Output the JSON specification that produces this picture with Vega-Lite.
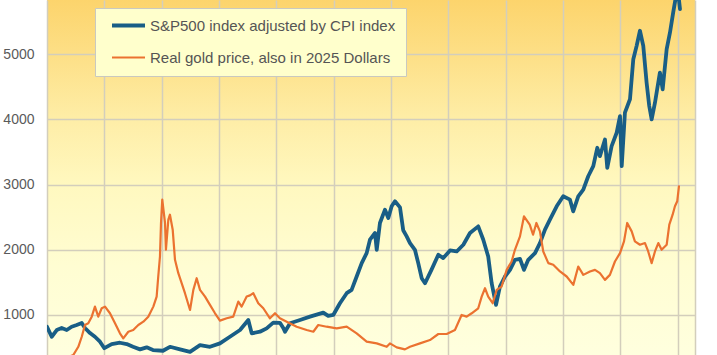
{
"$schema":"https://vega.github.io/schema/vega-lite/v6.json",
"width":648,"height":355,
"autosize":{"type":"none"},
"padding":{"left":47,"top":0,"right":22,"bottom":0},
"background":"white",
"config":{"font":"Liberation Sans","view":{"stroke":null,"fill":{"gradient":"linear","x1":0,"y1":0,"x2":0,"y2":1,"stops":[{"offset":0,"color":"#FCD46C"},{"offset":0.15,"color":"#FDDF86"},{"offset":0.33,"color":"#FEEDA6"},{"offset":0.52,"color":"#FFF8BF"},{"offset":0.75,"color":"#FFFDD2"},{"offset":1,"color":"#FFFFDE"}]}},
"legend":{"orient":"none","legendX":48,"legendY":8,"direction":"vertical","title":null,"fillColor":"#FFFFCC","strokeColor":"#C9C9C0","padding":10,"symbolType":"M-3.3,0L3.3,0","symbolSize":100,"symbolOffset":16,"symbolFillColor":"transparent","labelFontSize":15,"labelColor":"#555555","labelFont":"Liberation Sans","labelOffset":14,"rowPadding":16,"labelLimit":400,"cornerRadius":0}},
"data":{"values":[
{"s":"S&P500 index adjusted by CPI index","t":1970.00,"v":820},
{"s":"S&P500 index adjusted by CPI index","t":1970.41,"v":666},
{"s":"S&P500 index adjusted by CPI index","t":1970.85,"v":769},
{"s":"S&P500 index adjusted by CPI index","t":1971.28,"v":800},
{"s":"S&P500 index adjusted by CPI index","t":1971.72,"v":769},
{"s":"S&P500 index adjusted by CPI index","t":1972.15,"v":820},
{"s":"S&P500 index adjusted by CPI index","t":1972.59,"v":846},
{"s":"S&P500 index adjusted by CPI index","t":1973.03,"v":877},
{"s":"S&P500 index adjusted by CPI index","t":1973.31,"v":800},
{"s":"S&P500 index adjusted by CPI index","t":1973.75,"v":723},
{"s":"S&P500 index adjusted by CPI index","t":1974.18,"v":666},
{"s":"S&P500 index adjusted by CPI index","t":1974.62,"v":590},
{"s":"S&P500 index adjusted by CPI index","t":1975.00,"v":490},
{"s":"S&P500 index adjusted by CPI index","t":1975.64,"v":554},
{"s":"S&P500 index adjusted by CPI index","t":1976.36,"v":574},
{"s":"S&P500 index adjusted by CPI index","t":1976.95,"v":554},
{"s":"S&P500 index adjusted by CPI index","t":1977.50,"v":512},
{"s":"S&P500 index adjusted by CPI index","t":1978.11,"v":472},
{"s":"S&P500 index adjusted by CPI index","t":1978.69,"v":503},
{"s":"S&P500 index adjusted by CPI index","t":1979.24,"v":462},
{"s":"S&P500 index adjusted by CPI index","t":1980.11,"v":451},
{"s":"S&P500 index adjusted by CPI index","t":1980.72,"v":512},
{"s":"S&P500 index adjusted by CPI index","t":1981.60,"v":472},
{"s":"S&P500 index adjusted by CPI index","t":1982.47,"v":435},
{"s":"S&P500 index adjusted by CPI index","t":1983.34,"v":538},
{"s":"S&P500 index adjusted by CPI index","t":1984.21,"v":512},
{"s":"S&P500 index adjusted by CPI index","t":1985.08,"v":564},
{"s":"S&P500 index adjusted by CPI index","t":1985.95,"v":666},
{"s":"S&P500 index adjusted by CPI index","t":1986.83,"v":769},
{"s":"S&P500 index adjusted by CPI index","t":1987.55,"v":923},
{"s":"S&P500 index adjusted by CPI index","t":1987.85,"v":718},
{"s":"S&P500 index adjusted by CPI index","t":1988.57,"v":743},
{"s":"S&P500 index adjusted by CPI index","t":1989.15,"v":795},
{"s":"S&P500 index adjusted by CPI index","t":1989.73,"v":882},
{"s":"S&P500 index adjusted by CPI index","t":1990.31,"v":880},
{"s":"S&P500 index adjusted by CPI index","t":1990.60,"v":800},
{"s":"S&P500 index adjusted by CPI index","t":1990.75,"v":743},
{"s":"S&P500 index adjusted by CPI index","t":1991.19,"v":872},
{"s":"S&P500 index adjusted by CPI index","t":1992.06,"v":923},
{"s":"S&P500 index adjusted by CPI index","t":1992.93,"v":974},
{"s":"S&P500 index adjusted by CPI index","t":1994.09,"v":1035},
{"s":"S&P500 index adjusted by CPI index","t":1994.52,"v":985},
{"s":"S&P500 index adjusted by CPI index","t":1994.96,"v":1000},
{"s":"S&P500 index adjusted by CPI index","t":1995.54,"v":1180},
{"s":"S&P500 index adjusted by CPI index","t":1996.13,"v":1334},
{"s":"S&P500 index adjusted by CPI index","t":1996.56,"v":1385},
{"s":"S&P500 index adjusted by CPI index","t":1997.00,"v":1590},
{"s":"S&P500 index adjusted by CPI index","t":1997.44,"v":1795},
{"s":"S&P500 index adjusted by CPI index","t":1997.87,"v":1949},
{"s":"S&P500 index adjusted by CPI index","t":1998.16,"v":2154},
{"s":"S&P500 index adjusted by CPI index","t":1998.60,"v":2257},
{"s":"S&P500 index adjusted by CPI index","t":1998.75,"v":2000},
{"s":"S&P500 index adjusted by CPI index","t":1999.03,"v":2411},
{"s":"S&P500 index adjusted by CPI index","t":1999.47,"v":2615},
{"s":"S&P500 index adjusted by CPI index","t":1999.76,"v":2487},
{"s":"S&P500 index adjusted by CPI index","t":2000.05,"v":2667},
{"s":"S&P500 index adjusted by CPI index","t":2000.34,"v":2744},
{"s":"S&P500 index adjusted by CPI index","t":2000.78,"v":2650},
{"s":"S&P500 index adjusted by CPI index","t":2001.06,"v":2300},
{"s":"S&P500 index adjusted by CPI index","t":2001.36,"v":2205},
{"s":"S&P500 index adjusted by CPI index","t":2001.65,"v":2103},
{"s":"S&P500 index adjusted by CPI index","t":2002.08,"v":2000},
{"s":"S&P500 index adjusted by CPI index","t":2002.37,"v":1795},
{"s":"S&P500 index adjusted by CPI index","t":2002.67,"v":1564},
{"s":"S&P500 index adjusted by CPI index","t":2002.96,"v":1487},
{"s":"S&P500 index adjusted by CPI index","t":2003.54,"v":1700},
{"s":"S&P500 index adjusted by CPI index","t":2004.12,"v":1923},
{"s":"S&P500 index adjusted by CPI index","t":2004.55,"v":1872},
{"s":"S&P500 index adjusted by CPI index","t":2005.14,"v":1990},
{"s":"S&P500 index adjusted by CPI index","t":2005.72,"v":1974},
{"s":"S&P500 index adjusted by CPI index","t":2006.30,"v":2077},
{"s":"S&P500 index adjusted by CPI index","t":2006.88,"v":2257},
{"s":"S&P500 index adjusted by CPI index","t":2007.60,"v":2359},
{"s":"S&P500 index adjusted by CPI index","t":2008.04,"v":2154},
{"s":"S&P500 index adjusted by CPI index","t":2008.47,"v":1897},
{"s":"S&P500 index adjusted by CPI index","t":2008.77,"v":1487},
{"s":"S&P500 index adjusted by CPI index","t":2009.15,"v":1154},
{"s":"S&P500 index adjusted by CPI index","t":2009.49,"v":1436},
{"s":"S&P500 index adjusted by CPI index","t":2009.93,"v":1590},
{"s":"S&P500 index adjusted by CPI index","t":2010.37,"v":1692},
{"s":"S&P500 index adjusted by CPI index","t":2010.80,"v":1846},
{"s":"S&P500 index adjusted by CPI index","t":2011.24,"v":1860},
{"s":"S&P500 index adjusted by CPI index","t":2011.59,"v":1692},
{"s":"S&P500 index adjusted by CPI index","t":2011.96,"v":1846},
{"s":"S&P500 index adjusted by CPI index","t":2012.55,"v":1949},
{"s":"S&P500 index adjusted by CPI index","t":2012.98,"v":2103},
{"s":"S&P500 index adjusted by CPI index","t":2013.42,"v":2308},
{"s":"S&P500 index adjusted by CPI index","t":2013.85,"v":2462},
{"s":"S&P500 index adjusted by CPI index","t":2014.44,"v":2667},
{"s":"S&P500 index adjusted by CPI index","t":2015.01,"v":2820},
{"s":"S&P500 index adjusted by CPI index","t":2015.60,"v":2769},
{"s":"S&P500 index adjusted by CPI index","t":2015.88,"v":2590},
{"s":"S&P500 index adjusted by CPI index","t":2016.32,"v":2820},
{"s":"S&P500 index adjusted by CPI index","t":2016.76,"v":2923},
{"s":"S&P500 index adjusted by CPI index","t":2017.19,"v":3128},
{"s":"S&P500 index adjusted by CPI index","t":2017.63,"v":3282},
{"s":"S&P500 index adjusted by CPI index","t":2017.98,"v":3564},
{"s":"S&P500 index adjusted by CPI index","t":2018.21,"v":3436},
{"s":"S&P500 index adjusted by CPI index","t":2018.65,"v":3692},
{"s":"S&P500 index adjusted by CPI index","t":2018.85,"v":3256},
{"s":"S&P500 index adjusted by CPI index","t":2019.23,"v":3590},
{"s":"S&P500 index adjusted by CPI index","t":2019.67,"v":3795},
{"s":"S&P500 index adjusted by CPI index","t":2019.96,"v":4051},
{"s":"S&P500 index adjusted by CPI index","t":2020.11,"v":3282},
{"s":"S&P500 index adjusted by CPI index","t":2020.39,"v":4103},
{"s":"S&P500 index adjusted by CPI index","t":2020.83,"v":4308},
{"s":"S&P500 index adjusted by CPI index","t":2021.12,"v":4923},
{"s":"S&P500 index adjusted by CPI index","t":2021.41,"v":5128},
{"s":"S&P500 index adjusted by CPI index","t":2021.70,"v":5359},
{"s":"S&P500 index adjusted by CPI index","t":2021.99,"v":5128},
{"s":"S&P500 index adjusted by CPI index","t":2022.28,"v":4564},
{"s":"S&P500 index adjusted by CPI index","t":2022.51,"v":4205},
{"s":"S&P500 index adjusted by CPI index","t":2022.72,"v":4000},
{"s":"S&P500 index adjusted by CPI index","t":2023.01,"v":4256},
{"s":"S&P500 index adjusted by CPI index","t":2023.44,"v":4718},
{"s":"S&P500 index adjusted by CPI index","t":2023.68,"v":4462},
{"s":"S&P500 index adjusted by CPI index","t":2024.03,"v":5077},
{"s":"S&P500 index adjusted by CPI index","t":2024.32,"v":5333},
{"s":"S&P500 index adjusted by CPI index","t":2024.60,"v":5641},
{"s":"S&P500 index adjusted by CPI index","t":2024.90,"v":5950},
{"s":"S&P500 index adjusted by CPI index","t":2025.06,"v":5900},
{"s":"S&P500 index adjusted by CPI index","t":2025.19,"v":5692},
{"s":"Real gold price, also in 2025 Dollars","t":1970.00,"v":290},
{"s":"Real gold price, also in 2025 Dollars","t":1971.00,"v":320},
{"s":"Real gold price, also in 2025 Dollars","t":1971.80,"v":350},
{"s":"Real gold price, also in 2025 Dollars","t":1972.29,"v":385},
{"s":"Real gold price, also in 2025 Dollars","t":1972.73,"v":512},
{"s":"Real gold price, also in 2025 Dollars","t":1973.03,"v":666},
{"s":"Real gold price, also in 2025 Dollars","t":1973.31,"v":846},
{"s":"Real gold price, also in 2025 Dollars","t":1973.60,"v":872},
{"s":"Real gold price, also in 2025 Dollars","t":1973.90,"v":974},
{"s":"Real gold price, also in 2025 Dollars","t":1974.18,"v":1128},
{"s":"Real gold price, also in 2025 Dollars","t":1974.47,"v":974},
{"s":"Real gold price, also in 2025 Dollars","t":1974.77,"v":1103},
{"s":"Real gold price, also in 2025 Dollars","t":1975.06,"v":1128},
{"s":"Real gold price, also in 2025 Dollars","t":1975.49,"v":1026},
{"s":"Real gold price, also in 2025 Dollars","t":1975.93,"v":872},
{"s":"Real gold price, also in 2025 Dollars","t":1976.36,"v":718},
{"s":"Real gold price, also in 2025 Dollars","t":1976.65,"v":641},
{"s":"Real gold price, also in 2025 Dollars","t":1977.09,"v":743},
{"s":"Real gold price, also in 2025 Dollars","t":1977.52,"v":769},
{"s":"Real gold price, also in 2025 Dollars","t":1977.96,"v":846},
{"s":"Real gold price, also in 2025 Dollars","t":1978.40,"v":897},
{"s":"Real gold price, also in 2025 Dollars","t":1978.83,"v":974},
{"s":"Real gold price, also in 2025 Dollars","t":1979.27,"v":1128},
{"s":"Real gold price, also in 2025 Dollars","t":1979.56,"v":1282},
{"s":"Real gold price, also in 2025 Dollars","t":1979.70,"v":1590},
{"s":"Real gold price, also in 2025 Dollars","t":1979.85,"v":1897},
{"s":"Real gold price, also in 2025 Dollars","t":1979.94,"v":2411},
{"s":"Real gold price, also in 2025 Dollars","t":1980.05,"v":2769},
{"s":"Real gold price, also in 2025 Dollars","t":1980.29,"v":2411},
{"s":"Real gold price, also in 2025 Dollars","t":1980.37,"v":2000},
{"s":"Real gold price, also in 2025 Dollars","t":1980.58,"v":2462},
{"s":"Real gold price, also in 2025 Dollars","t":1980.72,"v":2538},
{"s":"Real gold price, also in 2025 Dollars","t":1980.96,"v":2308},
{"s":"Real gold price, also in 2025 Dollars","t":1981.16,"v":1846},
{"s":"Real gold price, also in 2025 Dollars","t":1981.45,"v":1641},
{"s":"Real gold price, also in 2025 Dollars","t":1981.74,"v":1487},
{"s":"Real gold price, also in 2025 Dollars","t":1982.03,"v":1334},
{"s":"Real gold price, also in 2025 Dollars","t":1982.47,"v":1077},
{"s":"Real gold price, also in 2025 Dollars","t":1982.76,"v":1385},
{"s":"Real gold price, also in 2025 Dollars","t":1983.05,"v":1564},
{"s":"Real gold price, also in 2025 Dollars","t":1983.34,"v":1385},
{"s":"Real gold price, also in 2025 Dollars","t":1983.78,"v":1282},
{"s":"Real gold price, also in 2025 Dollars","t":1984.21,"v":1154},
{"s":"Real gold price, also in 2025 Dollars","t":1984.65,"v":1026},
{"s":"Real gold price, also in 2025 Dollars","t":1985.08,"v":913},
{"s":"Real gold price, also in 2025 Dollars","t":1985.67,"v":949},
{"s":"Real gold price, also in 2025 Dollars","t":1986.24,"v":974},
{"s":"Real gold price, also in 2025 Dollars","t":1986.68,"v":1205},
{"s":"Real gold price, also in 2025 Dollars","t":1986.97,"v":1128},
{"s":"Real gold price, also in 2025 Dollars","t":1987.41,"v":1282},
{"s":"Real gold price, also in 2025 Dollars","t":1987.70,"v":1300},
{"s":"Real gold price, also in 2025 Dollars","t":1987.99,"v":1334},
{"s":"Real gold price, also in 2025 Dollars","t":1988.42,"v":1180},
{"s":"Real gold price, also in 2025 Dollars","t":1988.86,"v":1103},
{"s":"Real gold price, also in 2025 Dollars","t":1989.44,"v":949},
{"s":"Real gold price, also in 2025 Dollars","t":1989.88,"v":1026},
{"s":"Real gold price, also in 2025 Dollars","t":1990.31,"v":950},
{"s":"Real gold price, also in 2025 Dollars","t":1990.90,"v":897},
{"s":"Real gold price, also in 2025 Dollars","t":1991.77,"v":820},
{"s":"Real gold price, also in 2025 Dollars","t":1992.64,"v":769},
{"s":"Real gold price, also in 2025 Dollars","t":1993.22,"v":743},
{"s":"Real gold price, also in 2025 Dollars","t":1993.65,"v":846},
{"s":"Real gold price, also in 2025 Dollars","t":1994.38,"v":820},
{"s":"Real gold price, also in 2025 Dollars","t":1995.26,"v":795},
{"s":"Real gold price, also in 2025 Dollars","t":1996.13,"v":820},
{"s":"Real gold price, also in 2025 Dollars","t":1997.00,"v":718},
{"s":"Real gold price, also in 2025 Dollars","t":1997.87,"v":590},
{"s":"Real gold price, also in 2025 Dollars","t":1998.75,"v":564},
{"s":"Real gold price, also in 2025 Dollars","t":1999.62,"v":512},
{"s":"Real gold price, also in 2025 Dollars","t":1999.90,"v":564},
{"s":"Real gold price, also in 2025 Dollars","t":2000.49,"v":503},
{"s":"Real gold price, also in 2025 Dollars","t":2001.21,"v":472},
{"s":"Real gold price, also in 2025 Dollars","t":2001.65,"v":512},
{"s":"Real gold price, also in 2025 Dollars","t":2002.52,"v":564},
{"s":"Real gold price, also in 2025 Dollars","t":2003.39,"v":615},
{"s":"Real gold price, also in 2025 Dollars","t":2004.12,"v":708},
{"s":"Real gold price, also in 2025 Dollars","t":2004.85,"v":708},
{"s":"Real gold price, also in 2025 Dollars","t":2005.57,"v":769},
{"s":"Real gold price, also in 2025 Dollars","t":2006.15,"v":1000},
{"s":"Real gold price, also in 2025 Dollars","t":2006.59,"v":974},
{"s":"Real gold price, also in 2025 Dollars","t":2007.03,"v":1026},
{"s":"Real gold price, also in 2025 Dollars","t":2007.60,"v":1103},
{"s":"Real gold price, also in 2025 Dollars","t":2007.90,"v":1282},
{"s":"Real gold price, also in 2025 Dollars","t":2008.19,"v":1410},
{"s":"Real gold price, also in 2025 Dollars","t":2008.47,"v":1282},
{"s":"Real gold price, also in 2025 Dollars","t":2008.86,"v":1180},
{"s":"Real gold price, also in 2025 Dollars","t":2009.21,"v":1385},
{"s":"Real gold price, also in 2025 Dollars","t":2009.64,"v":1436},
{"s":"Real gold price, also in 2025 Dollars","t":2010.08,"v":1692},
{"s":"Real gold price, also in 2025 Dollars","t":2010.51,"v":1820},
{"s":"Real gold price, also in 2025 Dollars","t":2010.80,"v":2000},
{"s":"Real gold price, also in 2025 Dollars","t":2011.24,"v":2205},
{"s":"Real gold price, also in 2025 Dollars","t":2011.59,"v":2513},
{"s":"Real gold price, also in 2025 Dollars","t":2012.09,"v":2385},
{"s":"Real gold price, also in 2025 Dollars","t":2012.38,"v":2231},
{"s":"Real gold price, also in 2025 Dollars","t":2012.67,"v":2411},
{"s":"Real gold price, also in 2025 Dollars","t":2012.98,"v":2282},
{"s":"Real gold price, also in 2025 Dollars","t":2013.27,"v":1974},
{"s":"Real gold price, also in 2025 Dollars","t":2013.71,"v":1795},
{"s":"Real gold price, also in 2025 Dollars","t":2014.14,"v":1769},
{"s":"Real gold price, also in 2025 Dollars","t":2014.73,"v":1667},
{"s":"Real gold price, also in 2025 Dollars","t":2015.31,"v":1590},
{"s":"Real gold price, also in 2025 Dollars","t":2015.89,"v":1462},
{"s":"Real gold price, also in 2025 Dollars","t":2016.32,"v":1743},
{"s":"Real gold price, also in 2025 Dollars","t":2016.76,"v":1615},
{"s":"Real gold price, also in 2025 Dollars","t":2017.34,"v":1667},
{"s":"Real gold price, also in 2025 Dollars","t":2017.78,"v":1692},
{"s":"Real gold price, also in 2025 Dollars","t":2018.21,"v":1641},
{"s":"Real gold price, also in 2025 Dollars","t":2018.65,"v":1538},
{"s":"Real gold price, also in 2025 Dollars","t":2019.08,"v":1615},
{"s":"Real gold price, also in 2025 Dollars","t":2019.52,"v":1820},
{"s":"Real gold price, also in 2025 Dollars","t":2019.96,"v":1949},
{"s":"Real gold price, also in 2025 Dollars","t":2020.31,"v":2128},
{"s":"Real gold price, also in 2025 Dollars","t":2020.59,"v":2411},
{"s":"Real gold price, also in 2025 Dollars","t":2020.98,"v":2282},
{"s":"Real gold price, also in 2025 Dollars","t":2021.26,"v":2128},
{"s":"Real gold price, also in 2025 Dollars","t":2021.70,"v":2077},
{"s":"Real gold price, also in 2025 Dollars","t":2022.14,"v":2103},
{"s":"Real gold price, also in 2025 Dollars","t":2022.42,"v":1974},
{"s":"Real gold price, also in 2025 Dollars","t":2022.72,"v":1795},
{"s":"Real gold price, also in 2025 Dollars","t":2023.01,"v":1974},
{"s":"Real gold price, also in 2025 Dollars","t":2023.30,"v":2103},
{"s":"Real gold price, also in 2025 Dollars","t":2023.59,"v":2000},
{"s":"Real gold price, also in 2025 Dollars","t":2024.03,"v":2077},
{"s":"Real gold price, also in 2025 Dollars","t":2024.26,"v":2385},
{"s":"Real gold price, also in 2025 Dollars","t":2024.55,"v":2538},
{"s":"Real gold price, also in 2025 Dollars","t":2024.75,"v":2667},
{"s":"Real gold price, also in 2025 Dollars","t":2024.95,"v":2744},
{"s":"Real gold price, also in 2025 Dollars","t":2025.10,"v":2974}
]},
"mark":{"type":"line","clip":true,"strokeJoin":"round","strokeCap":"round"},
"encoding":{
"x":{"field":"t","type":"quantitative","scale":{"domain":[1970,2026.5],"nice":false,"zero":false},
 "axis":{"values":[1970,1975,1980,1985,1990,1995,2000,2005,2010,2015,2020,2025,2026.5],"labels":false,"ticks":false,"domain":false,"title":null,"grid":true,"gridColor":"#D3CEBC","gridWidth":1.5,"gridOpacity":1}},
"y":{"field":"v","type":"quantitative","scale":{"domain":[386,5831],"nice":false,"zero":false},
 "axis":{"values":[1000,2000,3000,4000,5000],"format":"d","ticks":false,"domain":false,"title":null,"grid":true,"gridColor":"#D3CEBC","gridWidth":1.5,"gridOpacity":1,"labelFontSize":14,"labelColor":"#5A5A5A","labelPadding":13,"labelFont":"Liberation Sans"}},
"color":{"field":"s","type":"nominal","sort":null,
 "scale":{"domain":["S&P500 index adjusted by CPI index","Real gold price, also in 2025 Dollars"],"range":["#195E86","#EB7230"]}},
"strokeWidth":{"field":"s","type":"ordinal","sort":null,
 "scale":{"domain":["S&P500 index adjusted by CPI index","Real gold price, also in 2025 Dollars"],"range":[3.8,2.2]}}
}
}
